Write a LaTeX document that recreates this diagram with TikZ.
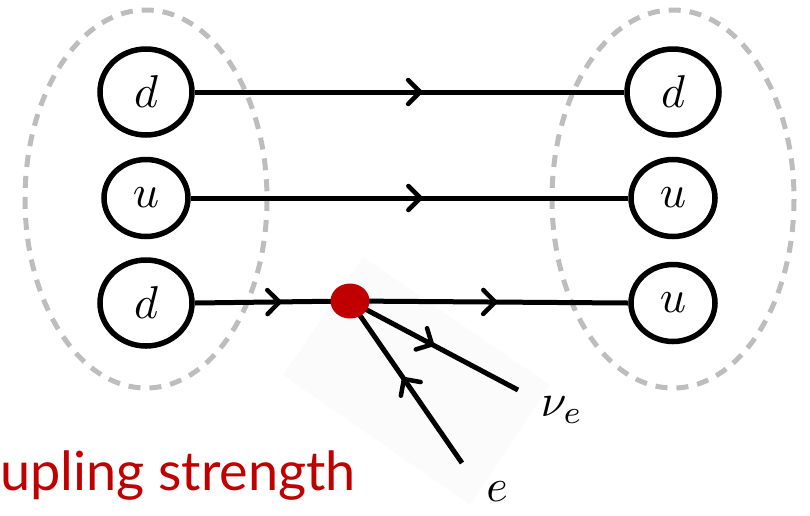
\documentclass[tikz,border=0pt]{standalone}
\usepackage{graphicx}
\usepackage{fontspec}
\newfontfamily\labelsans{Lato}
\usetikzlibrary{shapes.geometric,arrows.meta,decorations.markings}
\definecolor{dotred}{HTML}{C00000}
\definecolor{hadgray}{HTML}{BDBDBD}
\newcommand{\qlab}[1]{\scalebox{4.6}{$#1$}}
\tikzset{
  quark/.style={ellipse, draw=black, line width=5.5pt, inner sep=0pt, fill=white},
  qd/.style={quark, minimum width=92pt, minimum height=86pt},
  qu/.style={quark, minimum width=84pt, minimum height=77pt},
  hadron/.style={draw=hadgray, line width=5pt, dash pattern=on 12pt off 9pt},
  fermion/.style={line width=5pt, postaction={decorate},
     decoration={markings, mark=at position #1 with {\arrow{Straight Barb[length=12pt,width=24pt,line width=4.5pt,round]}}}},
}
\begin{document}
\begin{tikzpicture}[x=1pt,y=-1pt]
\useasboundingbox (0,0) rectangle (810,515);
% faint backdrop of the lepton part
\fill[black!1.5] (283,375) -- (363,257) -- (550,385) -- (470,505) -- cycle;
% hadron outlines
\draw[hadron] (146,199) ellipse [x radius=121, y radius=189];
\draw[hadron] (673,199) ellipse [x radius=121, y radius=189];
% quarks
\node[qd] (ld1) at (146,92) {\qlab{d}};
\node[qu] (lu)  at (146,198) {\qlab{u}};
\node[qd] (ld2) at (146,303) {\qlab{d}};
\node[qd] (rd)  at (673,92) {\qlab{d}};
\node[qu] (ru1) at (673,198) {\qlab{u}};
\node[qu] (ru2) at (673,303) {\qlab{u}};
% vertex position and lepton ends
\coordinate (vc) at (350,301);
\coordinate (nuend) at (518,390);
\coordinate (eend) at (462,463);
% fermion lines
\draw[fermion=0.53] (ld1) -- (rd);
\draw[fermion=0.53] (lu) -- (ru1);
\draw[fermion=0.56] (ld2.east) -- (vc);
\draw[fermion=0.53] (vc) -- (ru2.west);
\draw[fermion=0.5] (vc) -- (nuend);
\draw[fermion=0.53] (eend) -- (vc);
% vertex
\node[ellipse, fill=dotred, inner sep=0pt, minimum width=39pt, minimum height=35pt] (vtx) at (vc) {};
% labels
\node (nulab) at (562,410) {\qlab{\nu_e}};
\node (elab) at (497,492) {\qlab{e}};
\node[anchor=base west, inner sep=0pt, text=dotred, font=\labelsans\fontsize{54}{56}\selectfont] (coup) at (0,490) {upling strength};
\end{tikzpicture}
\end{document}
